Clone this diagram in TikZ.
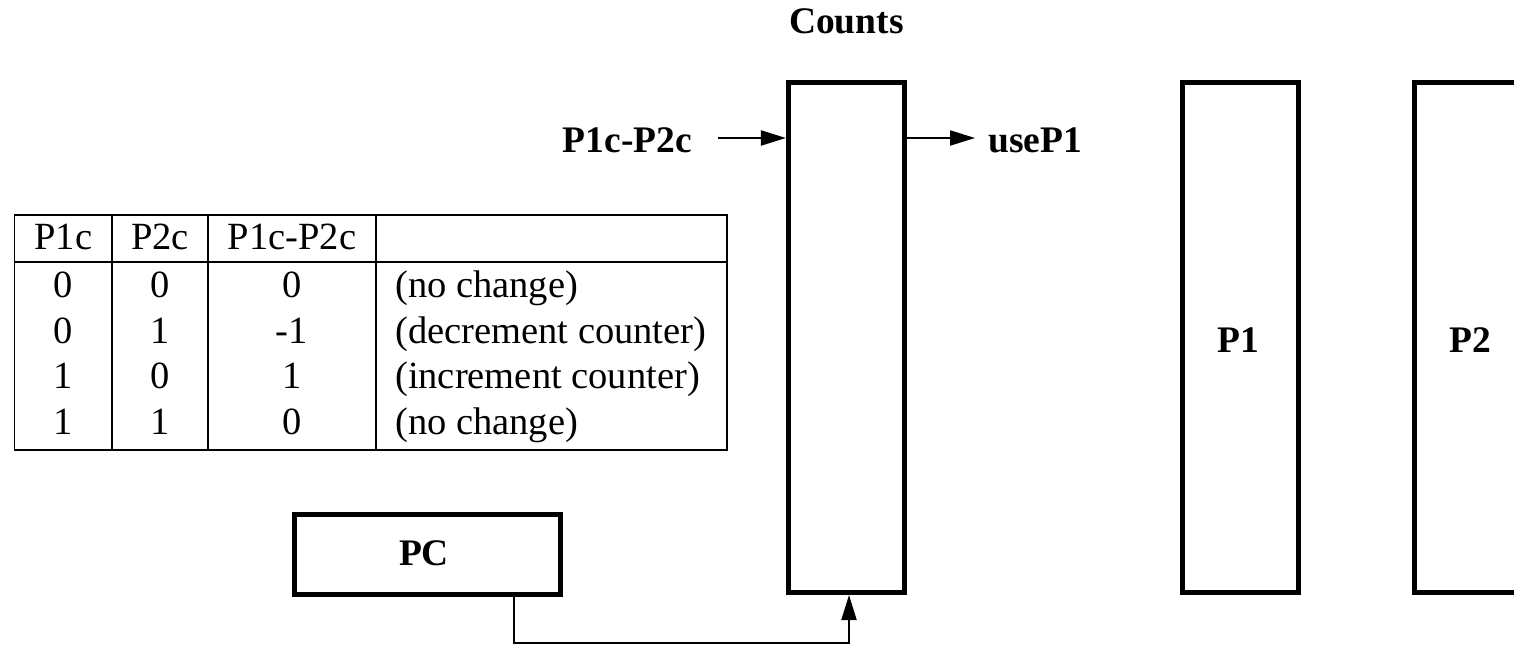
\documentclass[tikz,border=0pt]{standalone}
\usepackage{fontspec}
\setmainfont{Liberation Serif}
\usetikzlibrary{arrows.meta}
\begin{document}
\begin{tikzpicture}[x=1pt,y=-1pt,
  blk/.style={draw,line width=5pt,inner sep=0pt},
  tallblk/.style={blk,minimum width=116pt,minimum height=510pt},
  lbl/.style={font=\fontsize{37.5}{40}\selectfont\bfseries,inner sep=0pt,anchor=base},
  cell/.style={font=\fontsize{38.5}{42}\selectfont,inner sep=0pt,anchor=base},
  rule/.style={line width=1.5pt},
  wire/.style={line width=2pt},
  sig/.style={wire,-{Triangle[length=25pt,width=15pt]}}]
\clip (0,0) rectangle (1514,645);

% functional blocks
\node[tallblk] (cnt) at (846.4,337.5) {};
\node[tallblk] (p1)  at (1240.2,337.5) {};
\node[tallblk] (p2)  at (1472.2,337.5) {};
\node[blk,minimum width=266pt,minimum height=80pt] (pc) at (427.4,554.2) {};

% block labels
\node[lbl] (cntlbl) at (846.4,33) {Counts};
\node[lbl] (p1lbl) at (1238,352) {P1};
\node[lbl] (p2lbl) at (1470,352) {P2};
\node[lbl] (pclbl) at (424,565) {PC};

% counter input and output
\node[lbl,anchor=base east] (inlbl) at (692,152) {P1c-P2c};
\coordinate (inA) at (718,138);
\draw[sig] (inA) -- (inA -| cnt.west);
\coordinate (outB) at (975,138);
\draw[sig] (outB -| cnt.east) -- (outB);
\node[lbl,anchor=base west] (outlbl) at (988,152) {useP1};

% PC feeds the counter from below
\coordinate (pcout) at (514.3,0);
\coordinate (cin) at (849,0);
\coordinate (low) at (0,642.7);
\draw[sig] (pcout |- pc.south) -- (pcout |- low) -- (cin |- low) -- (cin |- cnt.south);

% truth table
\draw[rule] (14.7,215) rectangle (727,450);
\draw[rule] (14.7,262) -- (727,262);
\foreach \cx in {112,208,376} \draw[rule] (\cx,215) -- (\cx,450);

\node[cell] (h1) at (63.3,249.3) {P1c};
\node[cell] (h2) at (160,249.3) {P2c};
\node[cell] (h3) at (292,249.3) {P1c-P2c};

\foreach \y/\a/\b/\d/\t [count=\i] in {
  297.5/0/0/0/(no change),
  343/0/1/-1/(decrement counter),
  388.5/1/0/1/(increment counter),
  434/1/1/0/(no change)} {
  \node[cell] (a\i) at (63.3,\y) {\a};
  \node[cell] (b\i) at (160,\y) {\b};
  \node[cell] (d\i) at (292,\y) {\d};
  \node[cell,anchor=base west] (t\i) at (395,\y) {\t};
}
\end{tikzpicture}
\end{document}
